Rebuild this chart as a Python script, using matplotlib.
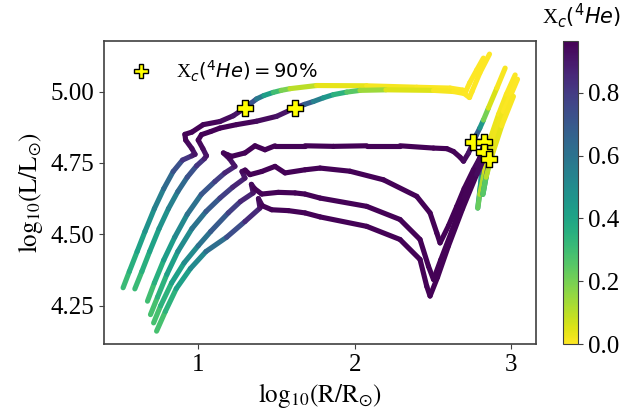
import numpy as np
import matplotlib
matplotlib.use("Agg")
import matplotlib.pyplot as plt
from matplotlib.collections import LineCollection
from matplotlib.lines import Line2D

plt.rcParams['font.family'] = 'serif'
plt.rcParams['font.serif'] = ['Liberation Serif', 'DejaVu Serif']
plt.rcParams['mathtext.fontset'] = 'custom'
plt.rcParams['mathtext.rm'] = 'DejaVu Sans'
plt.rcParams['mathtext.it'] = 'DejaVu Sans:italic'
plt.rcParams['mathtext.bf'] = 'DejaVu Sans:bold'
plt.rcParams['mathtext.sf'] = 'Liberation Serif'

# tracks: log10 R, log10 L, central He4 fraction
t1_logR = [0.52, 0.56, 0.61, 0.66, 0.72, 0.78, 0.84, 0.90, 0.96, 0.98,
           0.96, 0.92, 0.915, 0.96, 1.032, 1.139, 1.224, 1.30,
           1.34, 1.373, 1.42, 1.48, 1.53, 1.587, 1.757, 2.077, 2.397, 2.61, 2.69, 2.71, 2.735, 2.78, 2.823]
t1_logL = [4.313, 4.37, 4.44, 4.51, 4.59, 4.66, 4.72, 4.76, 4.775, 4.78,
           4.80, 4.83, 4.85, 4.858, 4.884, 4.895, 4.915, 4.943,
           4.96, 4.974, 4.986, 4.997, 5.004, 5.01, 5.021, 5.02, 5.015, 5.012, 5.005, 5.0, 5.03, 5.075, 5.117]
t1_xc = [0.29, 0.33, 0.38, 0.44, 0.51, 0.59, 0.68, 0.77, 0.86, 0.90,
         0.93, 0.95, 0.96, 0.96, 0.955, 0.945, 0.93, 0.90,
         0.78, 0.65, 0.5, 0.35, 0.24, 0.15, 0.05, 0.02, 0.01, 0.005, 0.0, 0.0, 0.0, 0.0, 0.0]

t2_logR = [0.595, 0.64, 0.69, 0.75, 0.81, 0.87, 0.93, 0.99, 1.04, 1.053,
           1.03, 1.0, 1.021, 1.08, 1.139, 1.245, 1.373, 1.501, 1.62,
           1.68, 1.736, 1.80, 1.864, 1.95, 2.034, 2.2, 2.504, 2.632, 2.70, 2.734, 2.75, 2.80, 2.862]
t2_logL = [4.309, 4.37, 4.44, 4.52, 4.59, 4.65, 4.70, 4.74, 4.765, 4.775,
           4.80, 4.83, 4.849, 4.86, 4.872, 4.884, 4.896, 4.913, 4.943,
           4.955, 4.965, 4.978, 4.989, 4.998, 5.004, 5.006, 5.004, 5.0, 4.993, 4.979, 5.0, 5.065, 5.131]
t2_xc = [0.29, 0.33, 0.38, 0.44, 0.51, 0.59, 0.68, 0.77, 0.86, 0.90,
         0.93, 0.95, 0.96, 0.96, 0.96, 0.955, 0.945, 0.93, 0.90,
         0.75, 0.6, 0.5, 0.4, 0.3, 0.2, 0.08, 0.02, 0.01, 0.005, 0.0, 0.0, 0.0, 0.0]

t3_logR = [0.676, 0.72, 0.78, 0.85, 0.93, 1.02, 1.107, 1.17, 1.235,
           1.20, 1.161, 1.19, 1.214, 1.299, 1.363, 1.427, 1.491, 1.683, 1.864, 2.077, 2.29, 2.504,
           2.589, 2.632, 2.674, 2.696, 2.728, 2.759,
           2.78, 2.80, 2.823, 2.855, 2.909, 2.962]
t3_logL = [4.266, 4.33, 4.41, 4.49, 4.57, 4.64, 4.685, 4.715, 4.738,
           4.765, 4.785, 4.778, 4.773, 4.785, 4.81, 4.796, 4.81, 4.81, 4.808, 4.81, 4.81, 4.802,
           4.80, 4.79, 4.77, 4.756, 4.785, 4.823,
           4.85, 4.872, 4.90, 4.942, 5.012, 5.082]
t3_xc = [0.27, 0.32, 0.39, 0.47, 0.56, 0.66, 0.75, 0.83, 0.90,
         0.93, 0.95, 0.96, 0.96, 0.96, 0.96, 0.96, 0.96, 0.96, 0.96, 0.96, 0.96, 0.96,
         0.96, 0.96, 0.95, 0.95, 0.93, 0.90,
         0.75, 0.6, 0.3, 0.1, 0.02, 0.0]

t4_logR = [0.695, 0.74, 0.80, 0.87, 0.96, 1.05, 1.139, 1.22, 1.299,
           1.28, 1.30, 1.331, 1.406, 1.491, 1.555, 1.683, 1.779, 1.97, 2.184, 2.397, 2.482, 2.525, 2.546,
           2.60, 2.653, 2.70, 2.759, 2.80, 2.83,
           2.82, 2.81, 2.80, 2.815, 2.835, 2.87, 2.92, 2.97, 3.026]
t4_logL = [4.219, 4.28, 4.36, 4.44, 4.52, 4.58, 4.627, 4.665, 4.697,
           4.72, 4.725, 4.709, 4.72, 4.738, 4.715, 4.726, 4.732, 4.721, 4.691, 4.633, 4.575, 4.505, 4.47,
           4.53, 4.598, 4.66, 4.726, 4.767, 4.823,
           4.76, 4.70, 4.645, 4.70, 4.77, 4.84, 4.92, 4.99, 5.058]
t4_xc = [0.26, 0.31, 0.38, 0.46, 0.55, 0.65, 0.74, 0.83, 0.90,
         0.93, 0.95, 0.96, 0.96, 0.96, 0.96, 0.96, 0.96, 0.96, 0.96, 0.96, 0.96, 0.96, 0.96,
         0.96, 0.96, 0.96, 0.95, 0.93, 0.90,
         0.7, 0.5, 0.3, 0.15, 0.08, 0.04, 0.02, 0.01, 0.0]

t5_logR = [0.715, 0.76, 0.83, 0.91, 1.00, 1.08, 1.192, 1.27, 1.352,
           1.34, 1.36, 1.406, 1.512, 1.619, 1.683, 1.779, 2.077, 2.29, 2.418, 2.472, 2.504,
           2.55, 2.62, 2.70, 2.78, 2.81, 2.83,
           2.81, 2.787, 2.80, 2.83, 2.88, 2.95, 3.0, 3.041]
t5_logL = [4.19, 4.25, 4.33, 4.40, 4.46, 4.51, 4.575, 4.615, 4.645,
           4.675, 4.66, 4.641, 4.647, 4.645, 4.641, 4.627, 4.598, 4.552, 4.482, 4.388, 4.342,
           4.41, 4.51, 4.63, 4.74, 4.78, 4.79,
           4.70, 4.592, 4.64, 4.72, 4.82, 4.93, 4.99, 5.043]
t5_xc = [0.26, 0.31, 0.38, 0.46, 0.55, 0.65, 0.74, 0.83, 0.90,
         0.93, 0.95, 0.96, 0.96, 0.96, 0.96, 0.96, 0.96, 0.96, 0.96, 0.96, 0.96,
         0.96, 0.96, 0.96, 0.95, 0.93, 0.90,
         0.6, 0.3, 0.15, 0.08, 0.04, 0.01, 0.0, 0.0]

t6_logR = [0.734, 0.79, 0.86, 0.95, 1.05, 1.182, 1.299, 1.395,
           1.385, 1.41, 1.47, 1.576, 1.683, 1.779, 2.077, 2.29, 2.418, 2.461, 2.482,
           2.53, 2.60, 2.69, 2.78, 2.84, 2.862,
           2.84, 2.82, 2.84, 2.88, 2.94, 3.015]
t6_logL = [4.161, 4.23, 4.31, 4.38, 4.44, 4.49, 4.545, 4.592,
           4.625, 4.60, 4.586, 4.583, 4.575, 4.561, 4.528, 4.482, 4.412, 4.318, 4.284,
           4.35, 4.46, 4.59, 4.71, 4.78, 4.765,
           4.70, 4.64, 4.70, 4.78, 4.88, 4.983]
t6_xc = [0.26, 0.31, 0.38, 0.46, 0.56, 0.68, 0.80, 0.90,
         0.93, 0.95, 0.96, 0.96, 0.96, 0.96, 0.96, 0.96, 0.96, 0.96, 0.96,
         0.96, 0.96, 0.96, 0.95, 0.93, 0.90,
         0.6, 0.35, 0.15, 0.06, 0.02, 0.0]

# points where Xc(He4) = 90%
cross_logR = [1.30, 1.62, 2.759, 2.83, 2.83, 2.862]
cross_logL = [4.943, 4.943, 4.823, 4.823, 4.79, 4.765]

tracks = [(t1_logR, t1_logL, t1_xc), (t2_logR, t2_logL, t2_xc), (t3_logR, t3_logL, t3_xc),
          (t4_logR, t4_logL, t4_xc), (t5_logR, t5_logL, t5_xc), (t6_logR, t6_logL, t6_xc)]

cmap = plt.get_cmap('viridis_r')
norm = plt.Normalize(0.0, 0.965)

fig = plt.figure(figsize=(6.44, 4.18), dpi=100)
ax = fig.add_axes([0.1615, 0.177, 0.6705, 0.725])
cax = fig.add_axes([0.874, 0.177, 0.0235, 0.725])

for logR, logL, xc in tracks:
    pts = np.column_stack([logR, logL]).reshape(-1, 1, 2)
    segs = np.concatenate([pts[:-1], pts[1:]], axis=1)
    xc = np.asarray(xc)
    lc = LineCollection(segs, cmap=cmap, norm=norm, linewidths=3.7, capstyle='round', joinstyle='round')
    lc.set_array(0.5 * (xc[:-1] + xc[1:]))
    ax.add_collection(lc)

ax.scatter(cross_logR, cross_logL, marker='P', s=125, facecolor='#ffff00', edgecolor='black',
           linewidths=1, zorder=5)

handle = Line2D([], [], marker='P', linestyle='none', markersize=10.5, markerfacecolor='#ffff00',
                markeredgecolor='black', markeredgewidth=1)
ax.legend([handle], [r'$\mathsf{X}_c(^4He) = 90\%$'], loc='upper left', frameon=False, fontsize=14)

ax.set_xlim(0.398, 3.158)
ax.set_ylim(4.116, 5.177)
ax.set_xticks([1, 2, 3])
ax.set_yticks([4.25, 4.5, 4.75, 5.0])
ax.set_yticklabels(['4.25', '4.50', '4.75', '5.00'])
ax.tick_params(labelsize=18, color='0.25')
ax.set_xlabel(r'$\mathrm{log_{10}(R/R_{\odot})}$', fontsize=18, math_fontfamily='stix')
ax.set_ylabel(r'$\mathrm{log_{10}(L/L_{\odot})}$', fontsize=18, math_fontfamily='stix')
for sp in ax.spines.values():
    sp.set_color('0.25')
    sp.set_linewidth(1.2)

sm = plt.cm.ScalarMappable(cmap=cmap, norm=norm)
cbar = fig.colorbar(sm, cax=cax, ticks=[0.0, 0.2, 0.4, 0.6, 0.8])
cbar.ax.tick_params(labelsize=18, color='0.25')
cbar.outline.set_edgecolor('0.25')
fig.text(0.903, 0.962, r'$\mathsf{X}_c(^4He)$', ha='center', va='center', fontsize=15)

fig.savefig('out.png', dpi=100)
